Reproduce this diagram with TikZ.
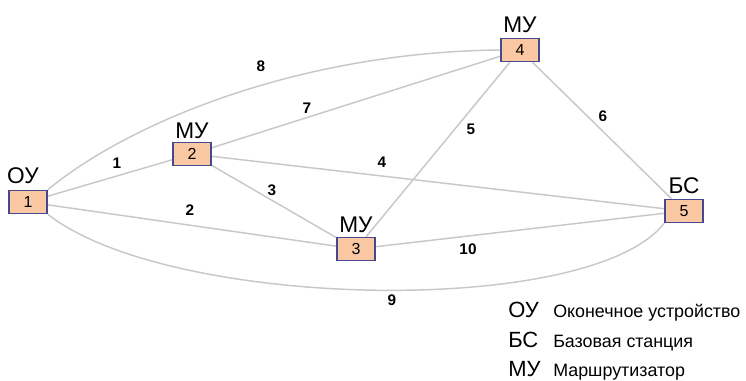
\documentclass[tikz,border=0pt]{standalone}
\usepackage{fontspec}
\setmainfont{Liberation Sans}
\definecolor{boxfill}{RGB}{250,200,162}
\definecolor{boxline}{RGB}{72,72,145}
\definecolor{edgegray}{RGB}{200,200,200}
\tikzset{
  devbox/.style={draw=boxline, fill=boxfill, line width=1.2pt, minimum width=38*0.75pt, minimum height=23*0.75pt, inner sep=0pt, font=\fontsize{12pt}{14pt}\selectfont},
  devlabel/.style={font=\fontsize{17pt}{20pt}\selectfont, inner sep=0pt},
  link/.style={draw=edgegray, line width=1.1pt},
  elabel/.style={font=\bfseries\fontsize{11.5pt}{13pt}\selectfont, inner sep=0pt},
  legabbr/.style={font=\fontsize{16.5pt}{19pt}\selectfont, inner sep=0pt, anchor=base west},
  legtext/.style={font=\fontsize{13.4pt}{16pt}\selectfont, inner sep=0pt, anchor=base west}
}
\begin{document}
\begin{tikzpicture}[x=0.75pt, y=-0.75pt]
\useasboundingbox (0,0) rectangle (746,381);
% nodes
\node[devbox] (n1) at (28,202) {1};
\node[devbox] (n2) at (192,154) {2};
\node[devbox] (n3) at (356,249) {3};
\node[devbox] (n4) at (520,50) {4};
\node[devbox] (n5) at (684,211) {5};
\node[devlabel] (l1) at (23,176) {ОУ};
\node[devlabel] (l2) at (192,131) {МУ};
\node[devlabel] (l3) at (356,225) {МУ};
\node[devlabel] (l4) at (520,25) {МУ};
\node[devlabel] (l5) at (684,186) {БС};
% links
\draw[link] (n1) -- (n2);
\draw[link] (n1) -- (n3);
\draw[link] (n2) -- (n3);
\draw[link] (n2) -- (n5);
\draw[link] (n3) -- (n4);
\draw[link] (n4) -- (n5);
\draw[link] (n2) -- (n4);
\draw[link] (n3) -- (n5);
\draw[link] (n1.north east) .. controls (130,122) and (300,52) .. (n4.west);
\draw[link] (n1.south east) .. controls (170,310) and (590,318) .. (n5.south west);
% redraw boxes on top
\node[devbox] at (n1) {1};
\node[devbox] at (n2) {2};
\node[devbox] at (n3) {3};
\node[devbox] at (n4) {4};
\node[devbox] at (n5) {5};
% edge labels
\node[elabel] (e1) at (117,163) {1};
\node[elabel] (e2) at (190,210) {2};
\node[elabel] (e3) at (272,190) {3};
\node[elabel] (e4) at (382,162) {4};
\node[elabel] (e5) at (471,129) {5};
\node[elabel] (e6) at (603,116) {6};
\node[elabel] (e7) at (307,108) {7};
\node[elabel] (e8) at (261,66) {8};
\node[elabel] (e9) at (392,300) {9};
\node[elabel] (e10) at (468,249) {10};
% legend
\node[legabbr] (a1) at (508,317) {ОУ};
\node[legtext] (t1) at (553,317) {Оконечное устройство};
\node[legabbr] (a2) at (508,347) {БС};
\node[legtext] (t2) at (553,347) {Базовая станция};
\node[legabbr] (a3) at (508,376) {МУ};
\node[legtext] (t3) at (553,376) {Маршрутизатор};
\end{tikzpicture}
\end{document}
